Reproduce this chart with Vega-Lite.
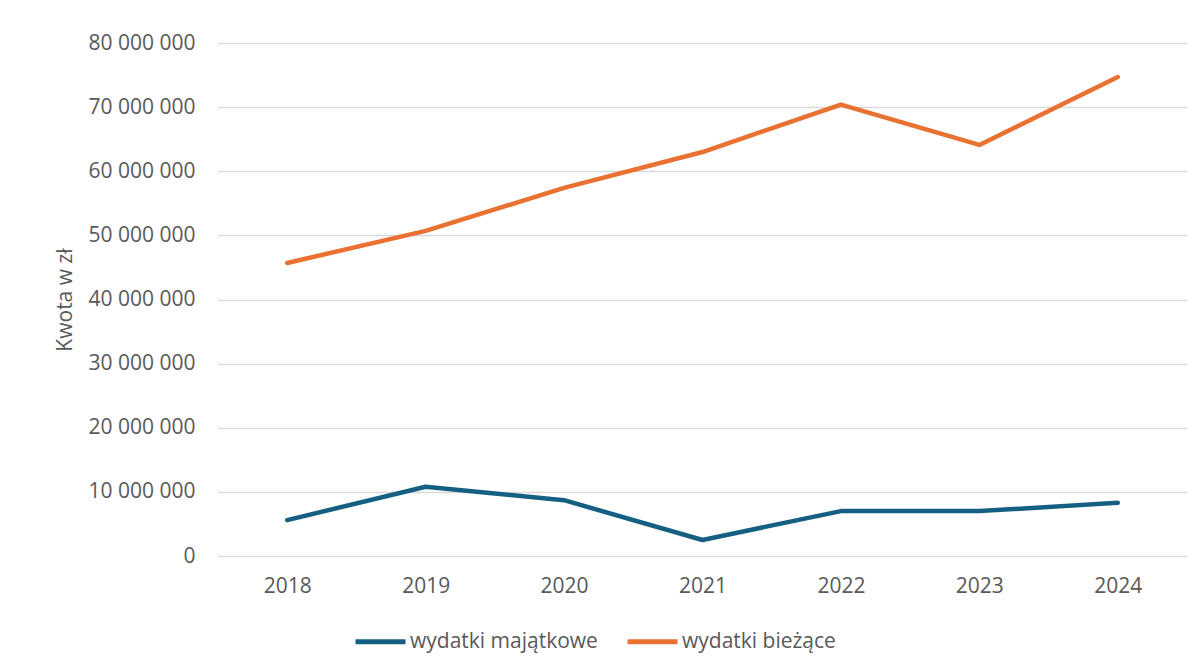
{
  "$schema": "https://vega.github.io/schema/vega-lite/v6.json",
  "width": 969,
  "height": 513,
  "autosize": "none",
  "padding": {"left": 218, "top": 43, "right": 16, "bottom": 115},
  "background": "white",
  "config": {
    "view": {"stroke": null},
    "font": "Open Sans",
    "locale": {"number": {"decimal": ",", "thousands": " ", "grouping": [3], "currency": ["", " zł"]}}
  },
  "data": {
    "values": [
      {"rok": "2018", "seria": "wydatki majątkowe", "kwota": 5600000},
      {"rok": "2019", "seria": "wydatki majątkowe", "kwota": 10800000},
      {"rok": "2020", "seria": "wydatki majątkowe", "kwota": 8700000},
      {"rok": "2021", "seria": "wydatki majątkowe", "kwota": 2500000},
      {"rok": "2022", "seria": "wydatki majątkowe", "kwota": 7000000},
      {"rok": "2023", "seria": "wydatki majątkowe", "kwota": 7000000},
      {"rok": "2024", "seria": "wydatki majątkowe", "kwota": 8300000},
      {"rok": "2018", "seria": "wydatki bieżące", "kwota": 45700000},
      {"rok": "2019", "seria": "wydatki bieżące", "kwota": 50700000},
      {"rok": "2020", "seria": "wydatki bieżące", "kwota": 57400000},
      {"rok": "2021", "seria": "wydatki bieżące", "kwota": 63000000},
      {"rok": "2022", "seria": "wydatki bieżące", "kwota": 70400000},
      {"rok": "2023", "seria": "wydatki bieżące", "kwota": 64100000},
      {"rok": "2024", "seria": "wydatki bieżące", "kwota": 74700000}
    ]
  },
  "mark": {"type": "line", "strokeWidth": 4.5, "strokeCap": "round", "strokeJoin": "round"},
  "encoding": {
    "x": {
      "field": "rok", "type": "ordinal",
      "scale": {"type": "point", "padding": 0.5},
      "axis": {"title": null, "domain": false, "ticks": false, "grid": false, "labelAngle": 0,
               "labelFontSize": 21, "labelColor": "#595959", "labelPadding": 19}
    },
    "y": {
      "field": "kwota", "type": "quantitative",
      "scale": {"domain": [0, 80000000], "nice": false},
      "axis": {"title": "Kwota w zł", "titleFontSize": 21, "titleFontWeight": "normal", "titleColor": "#595959",
               "titlePadding": 13,
               "values": [0, 10000000, 20000000, 30000000, 40000000, 50000000, 60000000, 70000000, 80000000],
               "format": ",d", "domain": false, "ticks": false, "labelPadding": 23,
               "labelFontSize": 21, "labelColor": "#595959",
               "gridColor": "#d9d9d9", "gridWidth": 1.5}
    },
    "color": {
      "field": "seria", "type": "nominal",
      "scale": {"domain": ["wydatki majątkowe", "wydatki bieżące"], "range": ["#156082", "#E97132"]},
      "legend": {"title": null, "orient": "none", "direction": "horizontal", "legendX": 135, "legendY": 571,
                 "symbolType": "stroke", "symbolSize": 2500, "symbolStrokeWidth": 5,
                 "labelFontSize": 21, "labelColor": "#595959", "labelOffset": 2, "labelLimit": 400,
                 "columnPadding": 19}
    }
  }
}
